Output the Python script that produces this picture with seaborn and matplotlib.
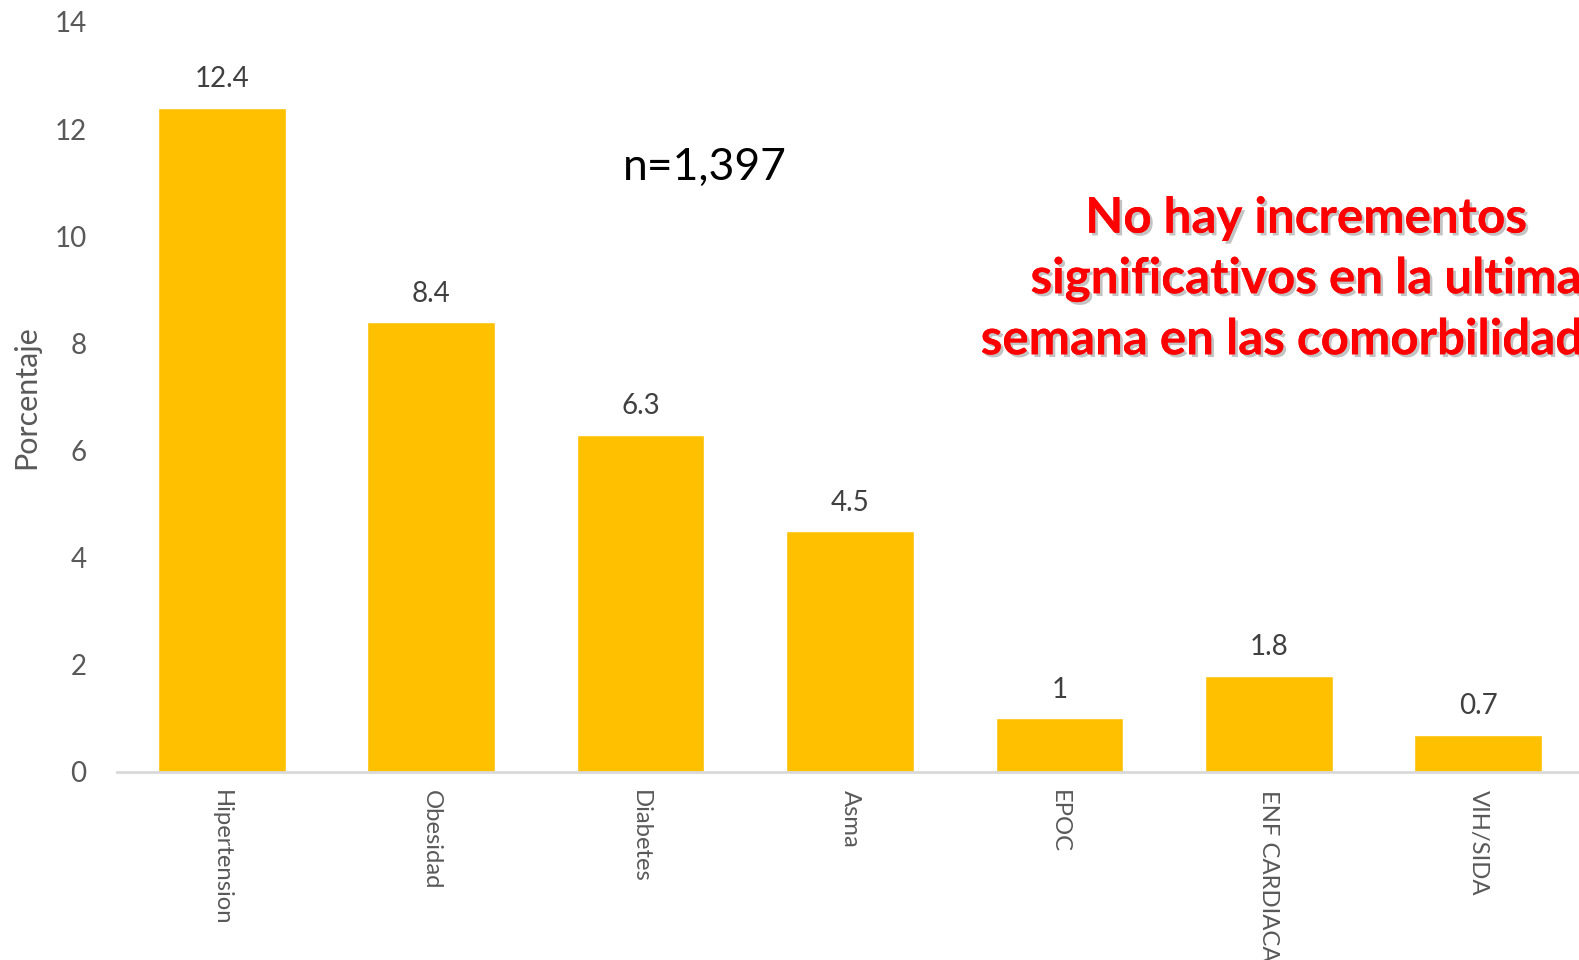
import matplotlib
matplotlib.use("Agg")
import matplotlib.pyplot as plt
import seaborn as sns
import pandas as pd
import matplotlib.patheffects as pe

categories = ["Hipertension", "Obesidad", "Diabetes", "Asma", "EPOC", "ENF CARDIACA", "VIH/SIDA"]
values = [12.4, 8.4, 6.3, 4.5, 1, 1.8, 0.7]
value_labels = ["12.4", "8.4", "6.3", "4.5", "1", "1.8", "0.7"]
yticks = [0, 2, 4, 6, 8, 10, 12, 14]

sns.set_theme(style="white")
plt.rcParams["font.family"] = ["Lato", "DejaVu Sans"]

df = pd.DataFrame({"cat": categories, "val": values})

W, H = 1579, 960
fig = plt.figure(figsize=(W / 100, H / 100), dpi=100)
left, right = 117 / W, 1583 / W
bottom, top = 1 - 772 / H, 1 - 22 / H
ax = fig.add_axes([left, bottom, right - left, top - bottom])

sns.barplot(data=df, x="cat", y="val", color="#FFC000", saturation=1, width=0.61, ax=ax)
ax.set_xlim(-0.5, len(categories) - 0.5)
ax.set_ylim(0, 14)
ax.set_yticks(yticks)
ax.set_yticklabels([str(t) for t in yticks])

gray = "#595959"
for i, (v, lab) in enumerate(zip(values, value_labels)):
    ax.annotate(lab, (i, v), xytext=(0, 11), textcoords="offset points",
                ha="center", va="bottom", fontsize=20, color="#404040")

ax.tick_params(axis="y", length=0, labelsize=20, labelcolor=gray, pad=22)
ax.tick_params(axis="x", length=0, labelsize=17.2, labelcolor=gray, pad=13)
for t in ax.get_xticklabels():
    t.set_rotation(270)
    t.set_ha("center")
    t.set_va("top")
ax.set_xlabel("")
ax.set_ylabel("Porcentaje", fontsize=22, color=gray)
ax.yaxis.set_label_coords(-0.0525, 0.5)

for s in ["top", "right", "left"]:
    ax.spines[s].set_visible(False)
ax.spines["bottom"].set_color("#D9D9D9")
ax.spines["bottom"].set_linewidth(2)

fig.text(700 / W * 1.007, 1 - 166 / H * 1.007, "n=1,397", fontsize=32, color="black",
         ha="center", va="center")

red_lines = "No hay incrementos\nsignificativos en la ultima\nsemana en las comorbilidades"
fig.text(1306 / W, 1 - 279 / H, red_lines, fontsize=35.5, color="#FF0000", fontweight="bold",
         ha="center", va="center", linespacing=1.42,
         path_effects=[pe.withSimplePatchShadow(offset=(2, -2), shadow_rgbFace="#888888", alpha=0.5), pe.Normal()])

fig.savefig("out.png", dpi=100)
